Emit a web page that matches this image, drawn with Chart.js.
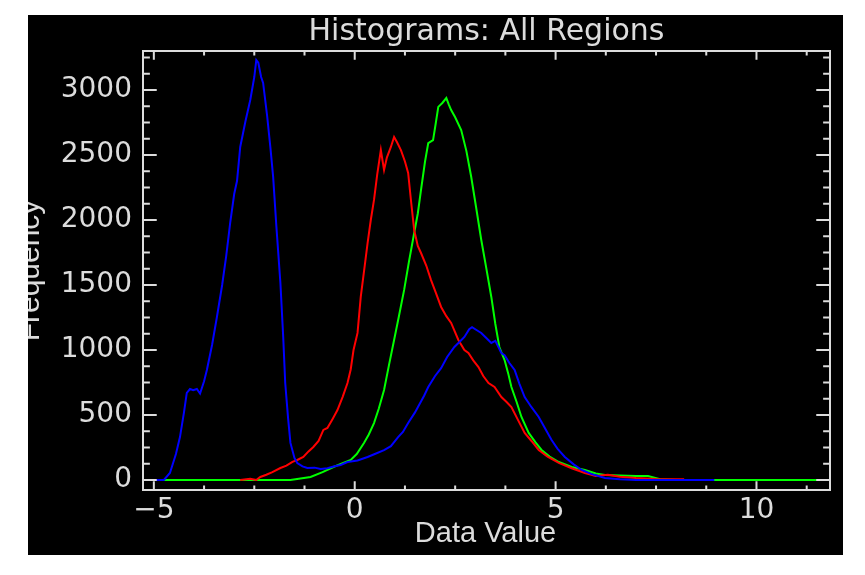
<!DOCTYPE html>
<html>
<head>
<meta charset="utf-8">
<title>Histograms: All Regions</title>
<script src="https://cdn.jsdelivr.net/npm/chart.js@4/dist/chart.umd.min.js"></script>
<style>
  html, body { margin: 0; background: #fff; }
  #frame { position: absolute; left: 28px; top: 15px; width: 815px; height: 540px; background: #000; }
</style>
</head>
<body>
<div id="frame"><canvas id="chart" width="815" height="540"></canvas></div>
<script>
const title = "Histograms: All Regions";
const xTitle = "Data Value";
const yTitle = "Frequency";

const xTicks = [-5, 0, 5, 10];
const yTicks = [0, 500, 1000, 1500, 2000, 2500, 3000];
const xMinorStep = 1.25;
const yMinorStep = 125;

// blue region: sharp peak near -2.4 plus a broad bump near 3
const blueX = [-5.27, -4.9, -4.75, -4.6, -4.45, -4.35, -4.25, -4.18, -4.1, -4.02, -3.93, -3.85, -3.75, -3.68,
  -3.55, -3.43, -3.3, -3.2, -3.1, -3.0, -2.93, -2.85, -2.72, -2.6, -2.5, -2.45, -2.4, -2.33, -2.28, -2.18,
  -2.1, -2.03, -1.95, -1.85, -1.78, -1.73, -1.66, -1.6, -1.5, -1.43, -1.3, -1.18, -1.0, -0.85, -0.68, -0.5,
  -0.35, -0.18, 0.07, 0.32, 0.5, 0.73, 0.9, 1.08, 1.2, 1.33, 1.5, 1.73, 1.83, 2.0, 2.15, 2.3, 2.48, 2.6,
  2.73, 2.85, 2.92, 3.05, 3.15, 3.25, 3.4, 3.5, 3.65, 3.73, 3.85, 3.98, 4.1, 4.23, 4.4, 4.58, 4.75, 4.9,
  5.05, 5.23, 5.45, 5.65, 5.9, 6.23, 6.6, 7.0, 8.95];
const blueY = [0, 0, 0, 54, 200, 330, 520, 670, 700, 690, 700, 665, 760, 846,
  1040, 1254, 1500, 1720, 1977, 2200, 2300, 2562, 2760, 2923, 3100, 3230, 3210, 3100, 3054, 2800,
  2560, 2330, 1950, 1515, 1100, 746, 480, 285, 170, 130, 105, 92, 95, 85, 90, 105,
  115, 138, 150, 177, 200, 230, 260, 330, 370, 438, 520, 650, 715, 800, 860, 946, 1023, 1060,
  1100, 1160, 1175, 1150, 1131, 1100, 1054, 1070, 977, 960, 900, 846, 740, 638, 560, 485, 390, 308,
  240, 177, 120, 77, 45, 15, 5, 0, 0];

// red region
const redX = [-2.85, -2.6, -2.45, -2.35, -2.2, -2.05, -1.85, -1.7, -1.55, -1.43, -1.28, -1.15, -1.03, -0.9,
  -0.78, -0.68, -0.55, -0.43, -0.3, -0.18, -0.1, -0.03, 0.07, 0.15, 0.25, 0.32, 0.4, 0.48, 0.56, 0.65,
  0.73, 0.8, 0.9, 0.98, 1.05, 1.15, 1.25, 1.33, 1.4, 1.48, 1.57, 1.65, 1.78, 1.9, 2.02, 2.15, 2.28, 2.4,
  2.58, 2.73, 2.83, 2.95, 3.08, 3.2, 3.33, 3.48, 3.65, 3.78, 3.9, 4.05, 4.23, 4.4, 4.58, 4.8, 5.08, 5.4,
  5.73, 6.0, 6.3, 6.6, 7.0, 7.5, 8.2];
const redY = [0, 10, 0, 23, 40, 60, 92, 110, 140, 154, 177, 220, 254, 300,
  385, 400, 470, 538, 640, 746, 850, 1000, 1131, 1408, 1650, 1823, 2000, 2154, 2350, 2538,
  2385, 2480, 2562, 2638, 2600, 2538, 2450, 2362, 2150, 1923, 1800, 1746, 1650, 1538, 1440, 1331, 1260, 1208,
  1077, 1000, 977, 920, 869, 800, 746, 715, 638, 600, 561, 470, 362, 300, 231, 180, 131, 90,
  54, 30, 40, 25, 15, 8, 5];

// green region
const greenX = [-4.75, -1.6, -1.1, -0.8, -0.53, -0.3, -0.1, 0.05, 0.23, 0.35, 0.48, 0.6, 0.73, 0.85, 0.98,
  1.1, 1.23, 1.35, 1.48, 1.57, 1.65, 1.75, 1.83, 1.95, 2.02, 2.08, 2.18, 2.28, 2.34, 2.4, 2.5, 2.65, 2.78,
  2.9, 3.02, 3.15, 3.28, 3.4, 3.5, 3.6, 3.73, 3.82, 3.9, 4.03, 4.15, 4.33, 4.5, 4.65, 4.85, 5.08, 5.4,
  5.73, 6.0, 6.23, 6.6, 7.0, 7.3, 7.6, 8.0, 11.83];
const greenY = [0, 0, 23, 60, 100, 130, 154, 200, 285, 350, 438, 550, 692, 880, 1077,
  1260, 1462, 1680, 1900, 2050, 2231, 2450, 2592, 2615, 2750, 2870, 2900, 2938, 2890, 2846, 2790, 2692, 2530,
  2331, 2100, 1846, 1620, 1408, 1200, 1023, 923, 820, 715, 600, 485, 362, 290, 231, 180, 138, 100,
  77, 50, 38, 35, 30, 30, 5, 0, 0];

const INK = "#dcdcdc";

const toPoints = (xs, ys) => xs.map((x, i) => ({ x, y: ys[i] }));

// IDL-style box with inward ticks on all four sides, plus the titles
const idlFrame = {
  id: "idlFrame",
  afterDatasetsDraw(chart) {
    const { ctx, chartArea: a, scales: { x, y } } = chart;
    const w = a.right - a.left;
    const h = a.bottom - a.top;
    const xLen = 0.02 * h;
    const yLen = 0.02 * w;
    ctx.save();
    ctx.strokeStyle = INK;
    ctx.lineWidth = 2;
    ctx.strokeRect(a.left, a.top, w, h);
    ctx.beginPath();
    for (let k = Math.ceil(x.min / xMinorStep); k * xMinorStep <= x.max; k++) {
      const v = k * xMinorStep;
      const px = x.getPixelForValue(v);
      const len = xTicks.includes(v) ? xLen : xLen / 2;
      ctx.moveTo(px, a.bottom); ctx.lineTo(px, a.bottom - len);
      ctx.moveTo(px, a.top); ctx.lineTo(px, a.top + len);
    }
    for (let k = Math.ceil(y.min / yMinorStep); k * yMinorStep <= y.max; k++) {
      const v = k * yMinorStep;
      const py = y.getPixelForValue(v);
      const len = yTicks.includes(v) ? yLen : yLen / 2;
      ctx.moveTo(a.left, py); ctx.lineTo(a.left + len, py);
      ctx.moveTo(a.right, py); ctx.lineTo(a.right - len, py);
    }
    ctx.stroke();

    ctx.fillStyle = INK;
    ctx.textAlign = "center";
    ctx.textBaseline = "alphabetic";
    ctx.font = "30px 'DejaVu Sans'";
    ctx.fillText(title, (a.left + a.right) / 2, 25);
    ctx.font = "29px 'Liberation Sans'";
    ctx.fillText(xTitle, (a.left + a.right) / 2 - 1, 527);
    ctx.translate(11, (a.top + a.bottom) / 2);
    ctx.rotate(-Math.PI / 2);
    ctx.font = "30px 'Liberation Sans'";
    ctx.fillText(yTitle, 0, 0);
    ctx.restore();
  },
};

const tickFont = { family: "DejaVu Sans", size: 28 };

new Chart(document.getElementById("chart"), {
  type: "scatter",
  data: {
    datasets: [
      { label: "Blue", data: toPoints(blueX, blueY), borderColor: "#0000ff", showLine: true },
      { label: "Red", data: toPoints(redX, redY), borderColor: "#ff0000", showLine: true },
      { label: "Green", data: toPoints(greenX, greenY), borderColor: "#00ff00", showLine: true },
    ],
  },
  options: {
    responsive: false,
    animation: false,
    elements: { point: { radius: 0 }, line: { borderWidth: 2, tension: 0 } },
    layout: { padding: { top: 36, right: 13, left: 0, bottom: 0 } },
    plugins: { legend: { display: false }, tooltip: { enabled: false } },
    scales: {
      x: {
        type: "linear",
        min: -5.27,
        max: 11.83,
        grid: { display: false, drawTicks: false },
        border: { display: false },
        afterBuildTicks: (s) => { s.ticks = xTicks.map((v) => ({ value: v })); },
        afterFit: (s) => { s.height = 65; },
        ticks: {
          color: INK,
          font: tickFont,
          padding: 4,
          maxRotation: 0,
          autoSkip: false,
          callback: (v) => String(v).replace("-", "\u2212"),
        },
      },
      y: {
        type: "linear",
        min: -77,
        max: 3300,
        grid: { display: false, drawTicks: false },
        border: { display: false },
        afterBuildTicks: (s) => { s.ticks = yTicks.map((v) => ({ value: v })); },
        afterFit: (s) => { s.width = 115; },
        ticks: { color: INK, font: tickFont, padding: 11, autoSkip: false, callback: (v) => String(v) },
      },
    },
  },
  plugins: [idlFrame],
});
</script>
</body>
</html>
